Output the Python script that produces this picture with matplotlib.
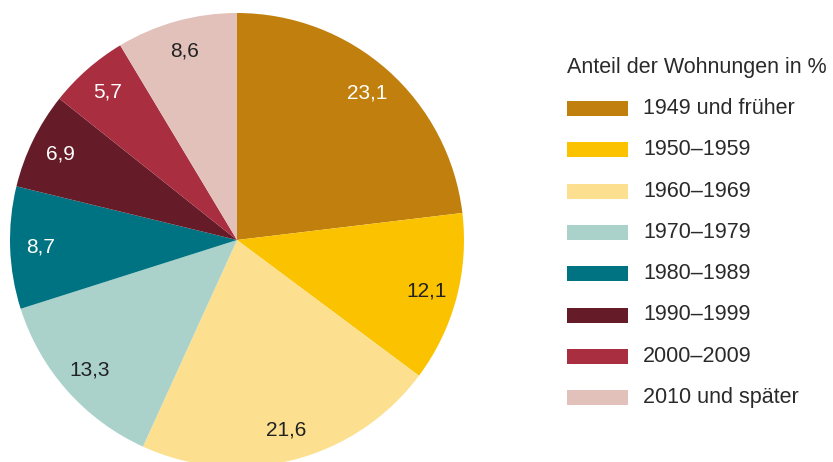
import matplotlib
matplotlib.use("Agg")
import matplotlib.pyplot as plt
from matplotlib.patches import Rectangle

plt.rcParams['font.family'] = ['Liberation Sans', 'DejaVu Sans']

categories = ["1949 und früher", "1950–1959", "1960–1969", "1970–1979",
              "1980–1989", "1990–1999", "2000–2009", "2010 und später"]
shares = [23.1, 12.1, 21.6, 13.3, 8.7, 6.9, 5.7, 8.6]
colors = ["#C1800E", "#FBC200", "#FCE08F", "#AAD2CB",
          "#007382", "#661C28", "#A82E40", "#E1C1BA"]
label_colors = ["white", "#222222", "#222222", "#222222",
                "white", "white", "white", "#222222"]
legend_title = "Anteil der Wohnungen in %"

W, H = 833, 462
fig = plt.figure(figsize=(W / 100, H / 100), dpi=100)

# pie axes: centre (237, 240) from top-left, radius 227 px
cx, cy, r = 237, H - 240, 227
ax = fig.add_axes([(cx - r) / W, (cy - r) / H, 2 * r / W, 2 * r / H])
wedges, texts = ax.pie(shares, colors=colors, startangle=90, counterclock=False,
                       radius=1.0, labels=[f"{v:.1f}".replace(".", ",") for v in shares],
                       labeldistance=0.865, wedgeprops=dict(linewidth=0),
                       textprops=dict(fontsize=15))
for t, c in zip(texts, label_colors):
    t.set_color(c)
    t.set_horizontalalignment('center')
    t.set_verticalalignment('center')
ax.set_xlim(-1, 1)
ax.set_ylim(-1, 1)
ax.set_aspect('equal')
for w in wedges:
    w.set_clip_on(False)

# legend
text_col = "#2a2a2a"
fig.text(567 / W, 1 - 67 / H, legend_title, fontsize=15.5, color=text_col,
         va='center', ha='left')
row0, step = 108.5, 41.3
for i, (lab, col) in enumerate(zip(categories, colors)):
    yc = row0 + i * step
    fig.add_artist(Rectangle((567 / W, 1 - (yc + 7.5) / H), 61 / W, 15 / H,
                             transform=fig.transFigure, facecolor=col, edgecolor='none'))
    fig.text(643 / W, 1 - yc / H, lab, fontsize=15.5, color=text_col,
             va='center', ha='left')

fig.savefig("out.png", dpi=100)
